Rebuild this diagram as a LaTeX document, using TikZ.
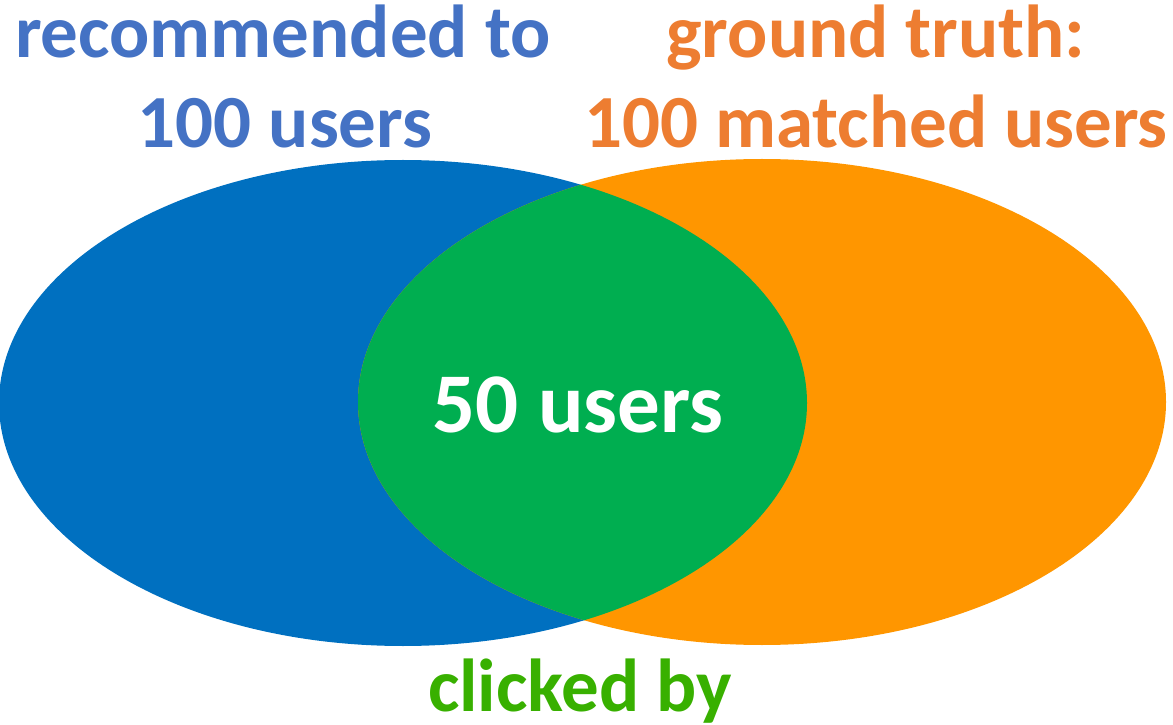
\documentclass[tikz,border=0pt]{standalone}
\usepackage{fontspec}
\setmainfont{Carlito}
\definecolor{recblue}{HTML}{0070C0}
\definecolor{truthorange}{HTML}{FF9600}
\definecolor{hitgreen}{HTML}{00AE50}
\definecolor{recfont}{HTML}{4472C4}
\definecolor{truthfont}{HTML}{ED7D31}
\definecolor{clickfont}{HTML}{38B000}
\begin{document}
\begin{tikzpicture}[x=0.5pt,y=0.5pt,
  label/.style={anchor=base, inner sep=0pt, font=\fontsize{37.5}{42}\selectfont\bfseries},
  count/.style={anchor=base, inner sep=0pt, text=white, font=\fontsize{42.5}{50}\selectfont\bfseries}]
\useasboundingbox (0,0) rectangle (1173,724);
\fill[recblue] (403,321) ellipse [x radius=404, y radius=243];
\fill[truthorange] (762,322) ellipse [x radius=404, y radius=243];
\begin{scope}
\clip (403,321) ellipse [x radius=404, y radius=243];
\fill[hitgreen] (762,322) ellipse [x radius=404, y radius=243];
\end{scope}

\node[label, text=recfont] (rec1) at (283,666) {recommended to};
\node[label, text=recfont] (rec2) at (285,576) {100 users};
\node[label, text=truthfont] (truth1) at (876,666) {ground truth:};
\node[label, text=truthfont] (truth2) at (876,576) {100 matched users};
\node[count] (both) at (578,292) {50 users};
\node[label, text=clickfont] (click) at (580,13) {clicked by};
\end{tikzpicture}
\end{document}
